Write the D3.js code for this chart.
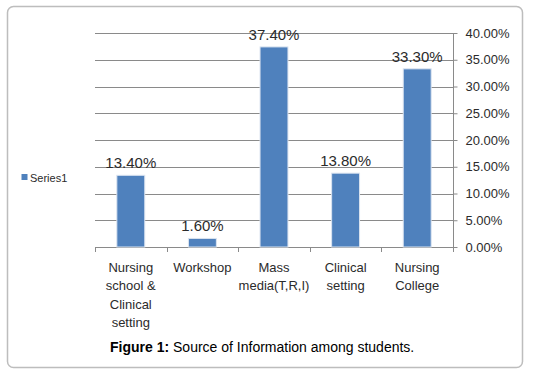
<!DOCTYPE html>
<html>
<head>
<meta charset="utf-8">
<script src="https://cdn.jsdelivr.net/npm/d3@7"></script>
<style>
  html, body { margin: 0; padding: 0; background: #fff; }
  text { font-family: "Liberation Sans", Arial, sans-serif; }
</style>
</head>
<body>
<div id="chart-container"></div>
<script>
// Data
const categories = [
    "Nursing\nschool &\nClinical\nsetting",
    "Workshop",
    "Mass\nmedia(T,R,I)",
    "Clinical\nsetting",
    "Nursing\nCollege"
];
const values = [13.4, 1.6, 37.4, 13.8, 33.3];
const yTicks = [0, 5, 10, 15, 20, 25, 30, 35, 40];
const seriesName = "Series1";
const caption = "Source of Information among students.";

const W = 534, H = 374;
const plot = { left: 95, right: 453, top: 33, bottom: 247 };

function init() {
    const svg = d3.select("#chart-container")
        .append("svg")
        .attr("width", W)
        .attr("height", H);

    svg.append("rect")
        .attr("width", W).attr("height", H)
        .attr("fill", "#fff");

    // Outer rounded frame
    svg.append("rect")
        .attr("x", 7.5).attr("y", 6.5)
        .attr("width", 515).attr("height", 361)
        .attr("rx", 6).attr("ry", 6)
        .attr("fill", "none")
        .attr("stroke", "#bdbdbd")
        .attr("stroke-width", 1.5);

    const x = d3.scaleBand()
        .domain(categories)
        .range([plot.left, plot.right])
        .paddingInner(0.61)
        .paddingOuter(0.305);

    const y = d3.scaleLinear()
        .domain([0, 40])
        .range([plot.bottom, plot.top]);

    // Gridlines
    svg.append("g")
        .selectAll("line")
        .data(yTicks.filter(d => d > 0))
        .enter()
        .append("line")
        .attr("x1", plot.left).attr("x2", plot.right)
        .attr("y1", d => Math.round(y(d)) + 0.5)
        .attr("y2", d => Math.round(y(d)) + 0.5)
        .attr("stroke", "#8a8a8a")
        .attr("stroke-width", 1);

    // Right value axis
    const yAxis = d3.axisRight(y)
        .tickValues(yTicks)
        .tickSize(4)
        .tickPadding(8)
        .tickFormat(d => d.toFixed(2) + "%");

    const gy = svg.append("g")
        .attr("transform", `translate(${plot.right + 0.5},0)`)
        .call(yAxis);
    gy.select(".domain").attr("stroke", "#8a8a8a").attr("d", `M0,${plot.top}V${plot.bottom}`);
    gy.selectAll(".tick line").attr("stroke", "#8a8a8a");
    gy.selectAll(".tick text")
        .style("font-size", "13px")
        .attr("fill", "#2b2b2b");

    // Category axis line + boundary ticks
    const gx = svg.append("g");
    gx.append("line")
        .attr("x1", plot.left).attr("x2", plot.right + 1)
        .attr("y1", plot.bottom + 0.5).attr("y2", plot.bottom + 0.5)
        .attr("stroke", "#8a8a8a");
    const step = x.step();
    gx.selectAll("line.bt")
        .data(d3.range(categories.length + 1))
        .enter()
        .append("line")
        .attr("class", "bt")
        .attr("x1", i => Math.round(plot.left + i * step) + 0.5)
        .attr("x2", i => Math.round(plot.left + i * step) + 0.5)
        .attr("y1", plot.bottom)
        .attr("y2", plot.bottom + 5)
        .attr("stroke", "#8a8a8a");

    // Category labels (multi-line)
    const lab = gx.selectAll("text.cat")
        .data(categories)
        .enter()
        .append("text")
        .attr("class", "cat")
        .attr("text-anchor", "middle")
        .attr("fill", "#2b2b2b")
        .style("font-size", "13px");
    lab.each(function (d) {
        const t = d3.select(this);
        d.split("\n").forEach((line, i) => {
            t.append("tspan")
                .attr("x", x(d) + x.bandwidth() / 2)
                .attr("y", 272 + i * 18.3)
                .text(line);
        });
    });

    // Bars
    svg.append("g")
        .selectAll("rect")
        .data(values)
        .enter()
        .append("rect")
        .attr("x", (d, i) => x(categories[i]))
        .attr("y", d => y(d))
        .attr("width", x.bandwidth())
        .attr("height", d => plot.bottom - y(d))
        .attr("fill", "#4f81bd")
        .attr("stroke", "#dbe4f0")
        .attr("stroke-width", 1);

    // Data labels
    svg.append("g")
        .selectAll("text")
        .data(values)
        .enter()
        .append("text")
        .attr("x", (d, i) => x(categories[i]) + x.bandwidth() / 2)
        .attr("y", d => y(d) - 7)
        .attr("text-anchor", "middle")
        .attr("fill", "#2b2b2b")
        .style("font-size", "15px")
        .text(d => d.toFixed(2) + "%");

    // Legend
    svg.append("rect")
        .attr("x", 21.5).attr("y", 174)
        .attr("width", 6).attr("height", 6)
        .attr("fill", "#4f81bd");
    svg.append("text")
        .attr("x", 30).attr("y", 181.5)
        .attr("fill", "#2b2b2b")
        .style("font-size", "11px")
        .text(seriesName);

    // Caption
    const cap = svg.append("text")
        .attr("x", 110).attr("y", 352)
        .attr("fill", "#000")
        .style("font-size", "14px");
    cap.append("tspan").attr("font-weight", "bold").text("Figure 1:");
    cap.append("tspan").text(" " + caption);
}

window.onload = init;
</script>
</body>
</html>
